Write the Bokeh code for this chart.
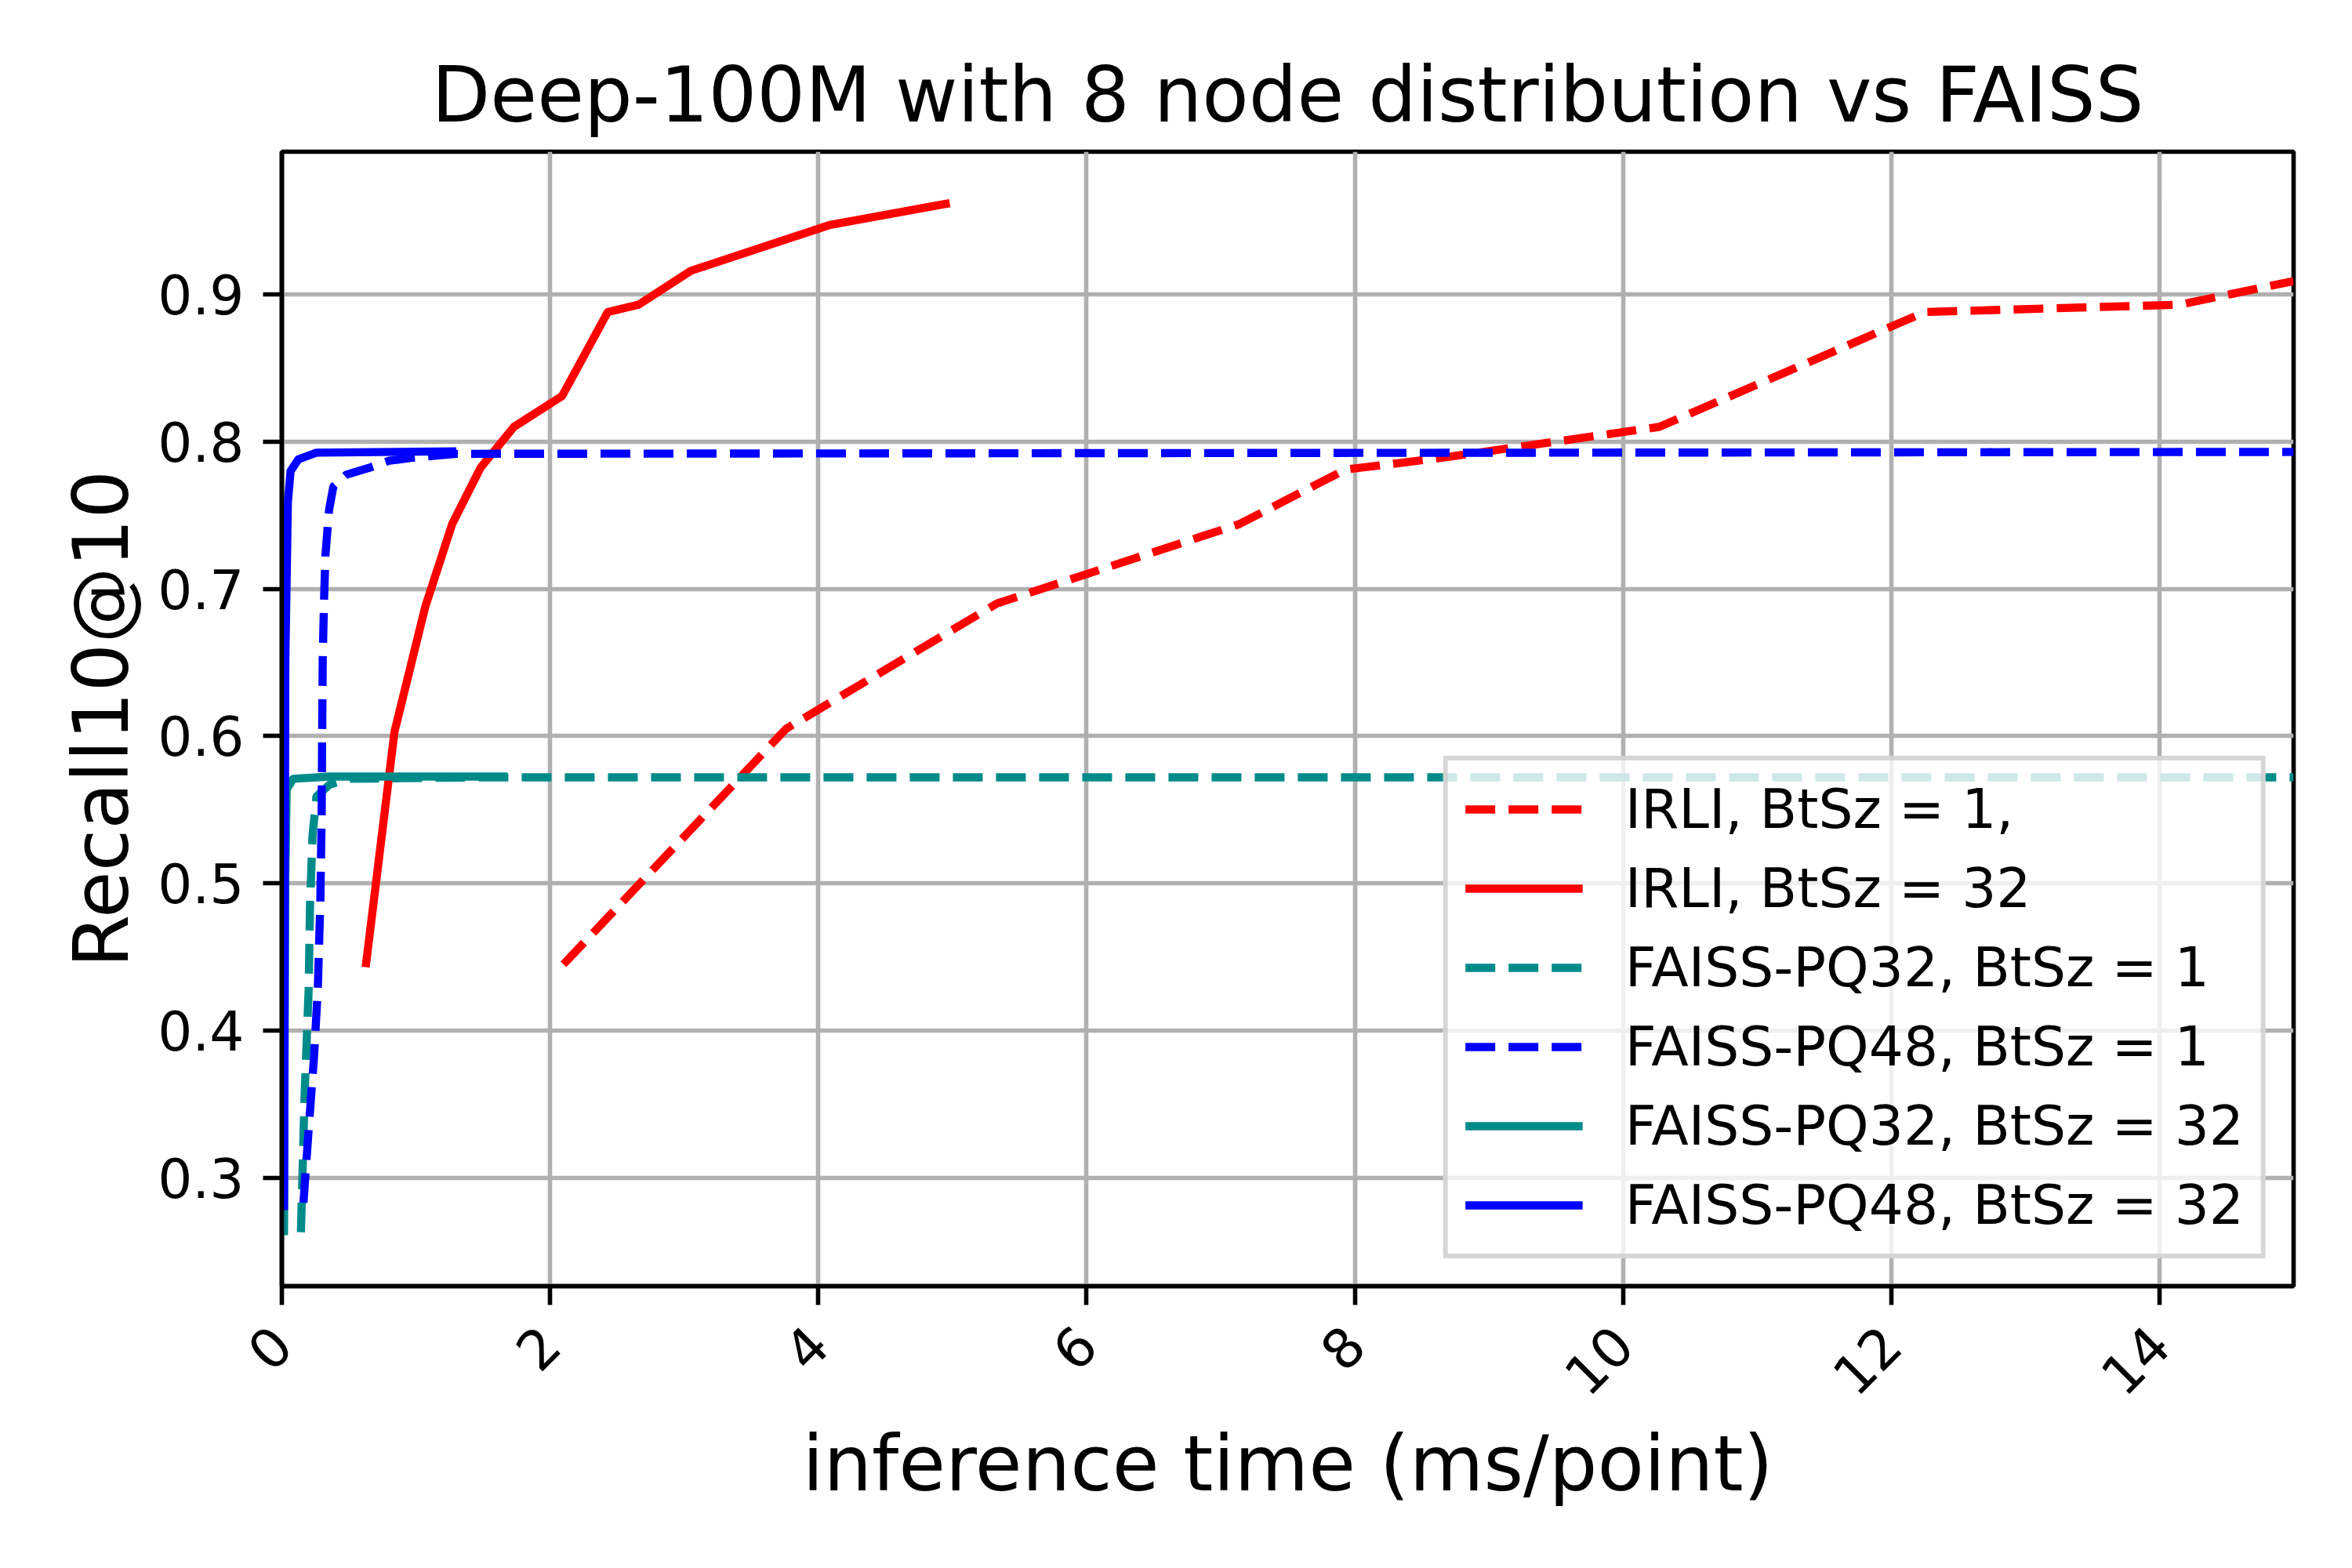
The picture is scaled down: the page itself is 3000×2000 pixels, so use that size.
import math
from bokeh.plotting import figure
from bokeh.models import Range1d, Legend, LegendItem, FixedTicker
from bokeh.embed import file_html
from bokeh.resources import INLINE

# ---- data ----
irli_bt1_x = [2.10, 3.76, 5.33, 7.14, 7.93, 8.65, 10.27, 12.25, 14.15, 15.0]
irli_bt1_y = [0.445, 0.605, 0.690, 0.744, 0.781, 0.789, 0.810, 0.888, 0.893, 0.909]

irli_bt32_x = [0.625, 0.84, 1.07, 1.27, 1.48, 1.73, 2.09, 2.43, 2.66, 3.05, 4.08, 4.98]
irli_bt32_y = [0.443, 0.603, 0.688, 0.744, 0.782, 0.810, 0.831, 0.888, 0.893, 0.916, 0.947, 0.962]

pq32_bt1_x = [0.142, 0.17, 0.20, 0.21, 0.229, 0.258, 0.355, 0.51, 1.5, 15.0]
pq32_bt1_y = [0.263, 0.357, 0.428, 0.485, 0.533, 0.559, 0.567, 0.571, 0.572, 0.572]

pq48_bt1_x = [0.161, 0.20, 0.239, 0.268, 0.287, 0.297, 0.30, 0.305, 0.315, 0.325,
              0.352, 0.384, 0.48, 0.645, 0.80, 0.973, 1.30, 15.0]
pq48_bt1_y = [0.283, 0.333, 0.381, 0.428, 0.488, 0.547, 0.594, 0.654, 0.693, 0.723,
              0.7535, 0.7695, 0.7775, 0.782, 0.787, 0.789, 0.7917, 0.793]

pq32_bt32_x = [0.016, 0.025, 0.036, 0.084, 0.355, 1.68]
pq32_bt32_y = [0.261, 0.50, 0.5637, 0.571, 0.5725, 0.5725]

pq48_bt32_x = [0.016, 0.026, 0.045, 0.065, 0.123, 0.258, 1.30]
pq48_bt32_y = [0.278, 0.652, 0.759, 0.780, 0.788, 0.7925, 0.7934]

labels = ["IRLI, BtSz = 1,", "IRLI, BtSz = 32", "FAISS-PQ32, BtSz = 1",
          "FAISS-PQ48, BtSz = 1", "FAISS-PQ32, BtSz = 32", "FAISS-PQ48, BtSz = 32"]
x_ticks = [0, 2, 4, 6, 8, 10, 12, 14]
y_ticks = [0.3, 0.4, 0.5, 0.6, 0.7, 0.8, 0.9]

FONT = "DejaVu Sans"
LW = 10.4
DASH = "38 17"

p = figure(width=2984, height=1984, output_backend="svg", toolbar_location=None,
           x_range=Range1d(0, 15), y_range=Range1d(0.2264, 0.9969),
           min_border_left=359, min_border_right=59, min_border_top=193,
           min_border_bottom=344)
p.frame_width = 2566
p.frame_height = 1447

p.title.text = "Deep-100M with 8 node distribution vs FAISS"
p.title.text_font = FONT
p.title.text_font_size = "97.2px"
p.title.text_font_style = "normal"
p.title.text_color = "black"
p.title.align = "center"
p.title.standoff = 31

p.outline_line_color = "black"
p.outline_line_width = 5.6
p.background_fill_color = "white"
p.border_fill_color = "white"

for ax in (p.xaxis[0], p.yaxis[0]):
    ax.axis_line_width = 5.6
    ax.axis_line_color = "black"
    ax.major_tick_line_width = 5.6
    ax.major_tick_line_color = "black"
    ax.major_tick_out = 24
    ax.major_tick_in = 0
    ax.minor_tick_line_color = None
    ax.major_label_text_font = FONT
    ax.major_label_text_font_size = "69.4px"
    ax.major_label_text_color = "black"
    ax.axis_label_text_font = FONT
    ax.axis_label_text_font_size = "97.2px"
    ax.axis_label_text_font_style = "normal"
    ax.axis_label_text_color = "black"

p.xaxis.ticker = FixedTicker(ticks=x_ticks)
p.yaxis.ticker = FixedTicker(ticks=y_ticks)
p.xaxis.major_label_orientation = math.pi / 4
p.xaxis.major_label_standoff = 39
p.yaxis.major_label_standoff = 24
p.xaxis.axis_label = "inference time (ms/point)"
p.yaxis.axis_label = "Recall10@10"
p.xaxis.axis_label_standoff = 6
p.yaxis.axis_label_standoff = 12

p.xgrid.ticker = FixedTicker(ticks=x_ticks)
p.ygrid.ticker = FixedTicker(ticks=y_ticks)
for g in (p.xgrid[0], p.ygrid[0]):
    g.grid_line_color = "#b0b0b0"
    g.grid_line_width = 5.6

r1 = p.line(irli_bt1_x, irli_bt1_y, line_color="red", line_width=LW, line_dash=DASH)
r2 = p.line(irli_bt32_x, irli_bt32_y, line_color="red", line_width=LW, line_join="round")
r3 = p.line(pq32_bt1_x, pq32_bt1_y, line_color="darkcyan", line_width=LW, line_dash=DASH)
r4 = p.line(pq48_bt1_x, pq48_bt1_y, line_color="blue", line_width=LW, line_dash=DASH)
r5 = p.line(pq32_bt32_x, pq32_bt32_y, line_color="darkcyan", line_width=LW, line_join="round")
r6 = p.line(pq48_bt32_x, pq48_bt32_y, line_color="blue", line_width=LW, line_join="round")

legend = Legend(items=[LegendItem(label=l, renderers=[r]) for l, r in
                       zip(labels, [r1, r2, r3, r4, r5, r6])],
                location="bottom_right")
legend.label_text_font = FONT
legend.label_text_font_size = "69.4px"
legend.label_text_color = "black"
legend.label_height = 70
legend.glyph_height = 70
legend.glyph_width = 150
legend.label_standoff = 54
legend.spacing = 21
legend.padding = 22
legend.margin = 35
legend.border_line_color = "#cccccc"
legend.border_line_width = 6
legend.border_line_alpha = 0.8
legend.background_fill_alpha = 0.8
p.add_layout(legend)

open("out.html", "w").write(file_html(p, INLINE))
